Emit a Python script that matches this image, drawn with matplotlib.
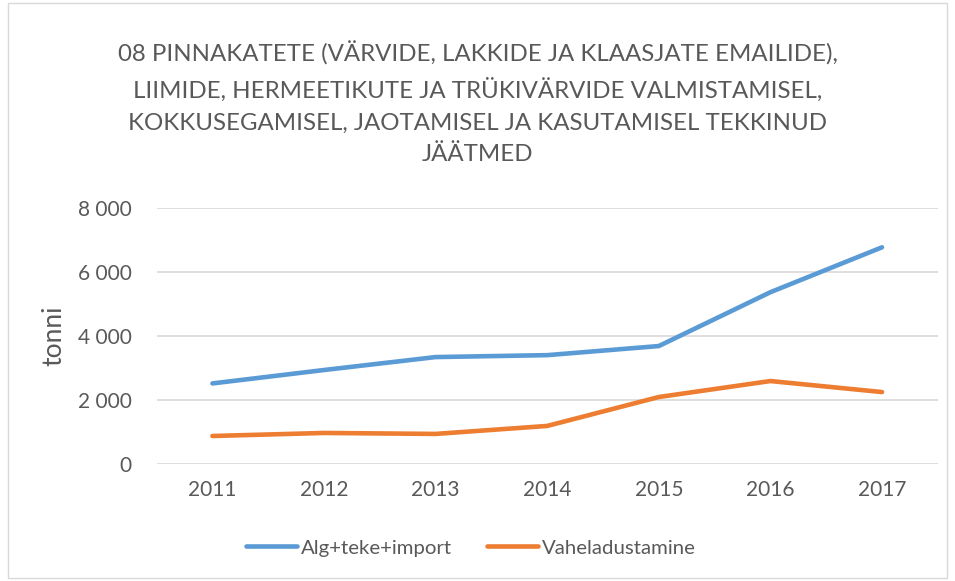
import matplotlib.pyplot as plt
from matplotlib.patches import Rectangle
from matplotlib.ticker import FuncFormatter

# data
years = ['2011', '2012', '2013', '2014', '2015', '2016', '2017']
alg_teke_import = [2510, 2930, 3335, 3395, 3680, 5365, 6770]
vaheladustamine = [865, 960, 930, 1180, 2085, 2585, 2240]

title = ('08 PINNAKATETE (VÄRVIDE, LAKKIDE JA KLAASJATE EMAILIDE),\n'
         'LIIMIDE, HERMEETIKUTE JA TRÜKIVÄRVIDE VALMISTAMISEL,\n'
         'KOKKUSEGAMISEL, JAOTAMISEL JA KASUTAMISEL TEKKINUD\n'
         'JÄÄTMED')

plt.rcParams['font.family'] = ['Lato', 'DejaVu Sans']
grey = '#595959'

fig = plt.figure(figsize=(9.55, 5.81), dpi=100)
ax = fig.add_axes([0.164, 0.202, 0.818, 0.440])

x = range(len(years))
ax.plot(x, alg_teke_import, color='#5B9BD5', lw=3.3, solid_capstyle='round',
        solid_joinstyle='round', label='Alg+teke+import')
ax.plot(x, vaheladustamine, color='#ED7D31', lw=3.3, solid_capstyle='round',
        solid_joinstyle='round', label='Vaheladustamine')

ax.set_xlim(-0.5, 6.5)
ax.set_ylim(0, 8000)
ax.set_xticks(list(x))
ax.set_xticklabels(years)
ax.set_yticks([0, 2000, 4000, 6000, 8000])
ax.yaxis.set_major_formatter(FuncFormatter(lambda v, p: f'{int(v):,}'.replace(',', ' ')))
ax.grid(axis='y', color='#D9D9D9', lw=1.2)
ax.set_axisbelow(True)
for s in ax.spines.values():
    s.set_visible(False)
ax.tick_params(length=0, labelsize=15, colors=grey, pad=12)
ax.tick_params(axis='y', pad=18)
ax.set_ylabel('tonni', fontsize=19, color=grey, labelpad=8)

fig.text(0.5, 0.822, title, ha='center', va='center', fontsize=17.3,
         color=grey, linespacing=1.62)

fig.legend(loc='center', bbox_to_anchor=(0.493, 0.057), ncol=2, frameon=False,
           fontsize=14.7, labelcolor=grey, handlelength=2.5, handletextpad=0.2,
           columnspacing=1.7)

fig.patches.append(Rectangle((0.008, 0.005), 0.984, 0.99, transform=fig.transFigure,
                             fill=False, edgecolor='#D9D9D9', lw=1))

fig.savefig('out.png', dpi=100)
